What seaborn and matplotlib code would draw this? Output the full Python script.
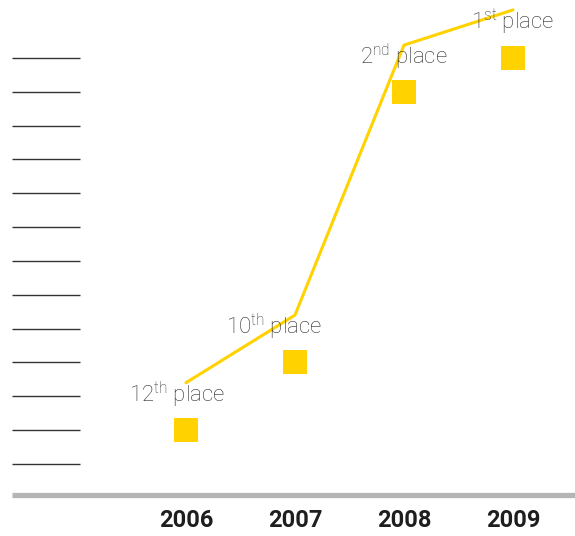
import numpy as np
import pandas as pd
import matplotlib
matplotlib.use("Agg")
import matplotlib.pyplot as plt
import seaborn as sns

# --- data ---
years = ["2006", "2007", "2008", "2009"]
ranks = [12, 10, 2, 1]
trend = [10.6, 8.6, 0.62, -0.42]
place_nums = ["12", "10", "2", "1"]
place_sfx = ["th", "th", "nd", "st"]
rank_levels = list(range(1, 14))

sns.set_theme(style="white")
plt.rcParams["font.family"] = ["Roboto", "DejaVu Sans"]
plt.rcParams["mathtext.fontset"] = "custom"
plt.rcParams["mathtext.rm"] = "Roboto:light"

df = pd.DataFrame({"idx": np.arange(len(years)), "rank": ranks, "trend": trend})

fig = plt.figure(figsize=(5.75, 5.36), dpi=100)
ax = fig.add_axes([0, 0, 1, 1])

yellow = "#FFD200"

# short rank lines on the left
ax.hlines(rank_levels, -1.596, -0.972, color="#333333", lw=1)

# baseline
ax.hlines(13.92, -1.596, 3.6, color="#b5b5b5", lw=3.8)

sns.lineplot(data=df, x="idx", y="trend", color=yellow, lw=2.2, ax=ax)
sns.scatterplot(data=df, x="idx", y="rank", marker="s", s=280, color=yellow,
                linewidth=0, ax=ax, zorder=3)

# labels
dx = [-0.08, -0.19, 0.0, 0.0]
for i in range(len(years)):
    ax.text(i + dx[i], trend[i] + 0.36,
            place_nums[i] + r"$^{\mathrm{" + place_sfx[i] + "}}$ place",
            ha="center", va="center", fontsize=16, color="#2e2e2e",
            fontweight="light")
    ax.text(i, 14.68, years[i], ha="center", va="center", fontsize=17,
            fontweight="bold", color="#1e1e1e")

ax.set_xlim(-1.706, 3.569)
ax.set_ylim(15.13, -0.714)
ax.axis("off")

fig.savefig("out.png", dpi=100)
